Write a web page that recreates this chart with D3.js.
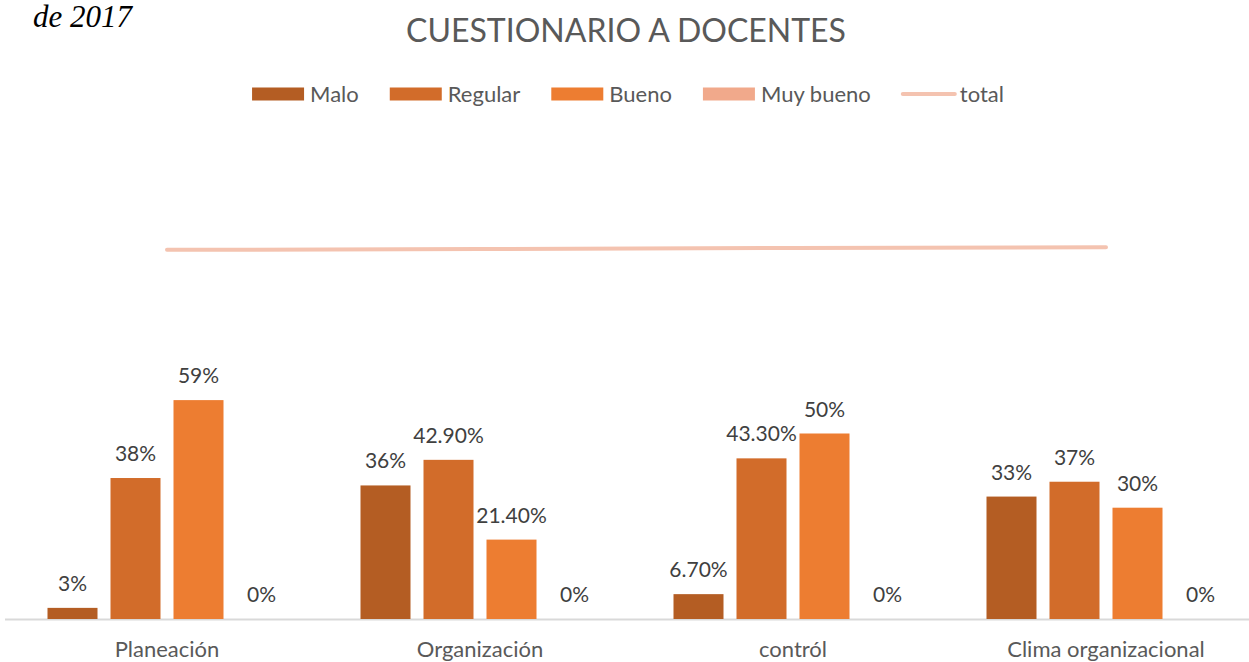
<!DOCTYPE html>
<html>
<head>
<meta charset="utf-8">
<script src="https://cdn.jsdelivr.net/npm/d3@7"></script>
<style>
  html, body { margin: 0; padding: 0; background: #fff; }
  svg { display: block; }
  text { font-family: Lato, "Open Sans", sans-serif; }
</style>
</head>
<body>
<svg id="chart" width="1249" height="662"></svg>
<script>
// ---- data ----
const categories = ["Planeación", "Organización", "contról", "Clima organizacional"];
const seriesNames = ["Malo", "Regular", "Bueno", "Muy bueno"];
const malo     = [0.03, 0.36, 0.067, 0.33];
const regular  = [0.38, 0.429, 0.433, 0.37];
const bueno    = [0.59, 0.214, 0.50, 0.30];
const muyBueno = [0.00, 0.00, 0.00, 0.00];
const total    = [0.995, 0.997, 1.0, 1.002];
const lineName = "total";
const titleText = "CUESTIONARIO A DOCENTES";
const cornerText = "de 2017";

const seriesValues = [malo, regular, bueno, muyBueno];
const colors = ["#B45D23", "#D26C2A", "#ED7D31", "#F1A98B"];
const lineColor = "#F4C3B0";

const svg = d3.select("#chart");
const W = 1249, H = 662;

// scales
const baseY = 619;
const y = d3.scaleLinear().domain([0, 1]).range([baseY, baseY - 371]);
const x0 = d3.scaleBand().domain(categories).range([10.5, 1262.5])
  .paddingInner(74 / 313).paddingOuter(37 / 313);
const x1 = d3.scaleBand().domain(seriesNames).range([0, x0.bandwidth()])
  .paddingInner(13 / 63).paddingOuter(0);

// corner text
svg.append("text").attr("x", 33).attr("y", 27)
  .style("font-family", "'Liberation Serif', 'DejaVu Serif', serif")
  .style("font-style", "italic").style("font-size", "31px").attr("fill", "#000")
  .text(cornerText);

// title
svg.append("text").attr("x", 626).attr("y", 42).attr("text-anchor", "middle")
  .style("font-size", "32px").attr("fill", "#595959").text(titleText);

// axis line
const xAxis = d3.axisBottom(x0).tickSize(0).tickPadding(22);
const gx = svg.append("g").attr("transform", `translate(0,${baseY})`).call(xAxis);
gx.select(".domain").remove();
gx.selectAll("text").style("font-family", "Lato, 'Open Sans', sans-serif")
  .style("font-size", "22px").attr("fill", "#595959");
svg.append("line").attr("x1", 5).attr("x2", W).attr("y1", baseY + 0.5).attr("y2", baseY + 0.5)
  .attr("stroke", "#D9D9D9").attr("stroke-width", 2);

// bars
const fmt = v => {
  const p = Math.round(v * 1000) / 10;
  return Number.isInteger(p) ? `${p}%` : `${p.toFixed(2)}%`;
};
const groups = svg.append("g").selectAll("g").data(categories).join("g")
  .attr("transform", d => `translate(${x0(d)},0)`);
groups.each(function (cat, ci) {
  const g = d3.select(this);
  seriesNames.forEach((s, si) => {
    const v = seriesValues[si][ci];
    if (v > 0) {
      g.append("rect").attr("x", x1(s)).attr("width", x1.bandwidth())
        .attr("y", y(v)).attr("height", baseY - y(v))
        .attr("fill", colors[si]);
    }
    g.append("text").attr("x", x1(s) + x1.bandwidth() / 2).attr("y", y(v) - 17)
      .attr("text-anchor", "middle").style("font-size", "21px").attr("fill", "#404040")
      .text(fmt(v));
  });
});

// total line
const line = d3.line().x((d, i) => x0(categories[i]) + x0.bandwidth() / 2).y(d => y(d));
svg.append("path").datum(total).attr("d", line).attr("fill", "none")
  .attr("stroke", lineColor).attr("stroke-width", 4).attr("stroke-linecap", "round");

// legend
const legend = svg.append("g");
const items = seriesNames.map((n, i) => ({ name: n, color: colors[i], type: "rect" }))
  .concat([{ name: lineName, color: lineColor, type: "line" }]);
let cx = 0;
items.forEach(it => {
  const g = legend.append("g").attr("transform", `translate(${cx},0)`);
  if (it.type === "rect") {
    g.append("rect").attr("x", 0).attr("y", -6.5).attr("width", 52).attr("height", 13).attr("fill", it.color);
  } else {
    g.append("line").attr("x1", 1).attr("x2", 53).attr("y1", 0).attr("y2", 0)
      .attr("stroke", it.color).attr("stroke-width", 4).attr("stroke-linecap", "round");
  }
  const t = g.append("text").attr("x", 58).attr("y", 8).style("font-size", "22px")
    .attr("fill", "#595959").text(it.name);
  cx += 58 + t.node().getComputedTextLength() + 31;
});
const legW = cx - 31;
legend.attr("transform", `translate(${628 - legW / 2},94)`);
</script>
</body>
</html>
